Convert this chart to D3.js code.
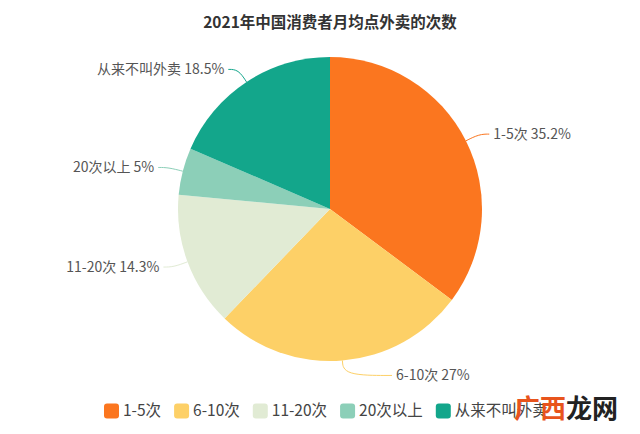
<!DOCTYPE html>
<html lang="zh">
<head>
  <meta charset="UTF-8">
  <script src="https://d3js.org/d3.v7.min.js"></script>
  <title>外卖次数</title>
  <style>
    body { margin: 0; background: #fff; }
    text { font-family: "Noto Sans CJK SC", "Noto Sans", sans-serif; }
  </style>
</head>
<body>
  <svg id="pie" width="640" height="434"></svg>
  <script>
    // data
    const categories = ["1-5次", "6-10次", "11-20次", "20次以上", "从来不叫外卖"];
    const shares = [35.2, 27, 14.3, 5, 18.5];
    const colors = ["#fb761f", "#fdd067", "#e1ebd4", "#8ccfb8", "#13a68b"];
    const titleText = "2021年中国消费者月均点外卖的次数";

    const svg = d3.select("#pie");
    const cx = 330, cy = 209, radius = 152;

    const data = categories.map((c, i) => ({ name: c, value: shares[i], color: colors[i] }));

    svg.append("text")
      .attr("x", 330).attr("y", 28)
      .attr("text-anchor", "middle")
      .attr("font-size", 15.5).attr("font-weight", "bold")
      .attr("fill", "#333")
      .text(titleText);

    const pie = d3.pie().sort(null).value(d => d.value);
    const arcs = pie(data);
    const arc = d3.arc().innerRadius(0).outerRadius(radius);

    const chart = svg.append("g").attr("transform", `translate(${cx},${cy})`);

    chart.selectAll("path.slice")
      .data(arcs)
      .join("path")
      .attr("class", "slice")
      .attr("d", arc)
      .attr("fill", d => d.data.color);

    // label lines: radial piece then horizontal piece
    const lineGen = d3.line().curve(d3.curveBasis);
    arcs.forEach(a => {
      const mid = (a.startAngle + a.endAngle) / 2;
      const sx = Math.sin(mid), sy = -Math.cos(mid);
      const p0 = [sx * radius, sy * radius];
      const p1 = [sx * (radius + 15), sy * (radius + 15)];
      const side = sx >= 0 ? 1 : -1;
      let ex = p1[0] + side * 10;
      if (Math.abs(ex) < 62) ex = side * 62;
      const p2 = [ex, p1[1]];
      chart.append("path")
        .attr("d", lineGen([p0, p1, p2]))
        .attr("fill", "none")
        .attr("stroke", a.data.color)
        .attr("stroke-width", 1);
      chart.append("text")
        .attr("x", ex + side * 4)
        .attr("y", p1[1])
        .attr("dy", "0.35em")
        .attr("text-anchor", side > 0 ? "start" : "end")
        .attr("font-size", 14)
        .attr("fill", "#555")
        .text(`${a.data.name} ${a.data.value}%`);
    });

    // legend
    const legend = svg.append("g");
    let lx = 0;
    const items = legend.selectAll("g.item")
      .data(data)
      .join("g")
      .attr("class", "item");
    items.append("rect")
      .attr("width", 15).attr("height", 15)
      .attr("rx", 3).attr("ry", 3)
      .attr("y", -7.5)
      .attr("fill", d => d.color);
    items.append("text")
      .attr("x", 19)
      .attr("dy", "0.35em")
      .attr("font-size", 15.5)
      .attr("fill", "#444")
      .text(d => d.name);
    items.each(function () {
      const g = d3.select(this);
      const w = 19 + g.select("text").node().getComputedTextLength();
      g.attr("transform", `translate(${lx},0)`);
      lx += w + 13;
    });
    legend.attr("transform", `translate(104,411)`);

    // watermark
    const wm = svg.append("text")
      .attr("x", 514).attr("y", 418)
      .attr("font-size", 26)
      .attr("font-weight", "bold");
    wm.append("tspan").attr("fill", "#e8541c").text("广西");
    wm.append("tspan").attr("fill", "#222").text("龙网");
  </script>
</body>
</html>
